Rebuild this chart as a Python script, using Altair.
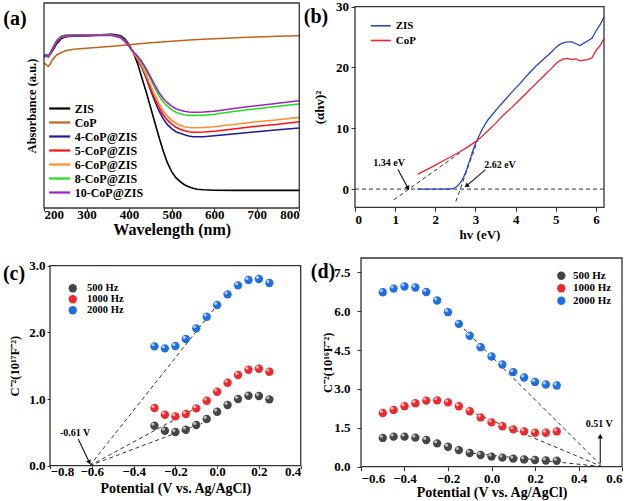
import altair as alt
import pandas as pd

FONT = "Liberation Serif"

# ---------------- (a) UV-vis absorbance ----------------
wl_head = [200, 205, 210, 215, 220, 230, 240, 250, 270, 300, 330, 360, 380, 390, 400]
wl_tail = [410, 420, 430, 440, 450, 460, 470, 480, 490, 500, 510, 520, 530, 540, 550,
           560, 575, 600, 650, 700, 750, 800]
zis_head = [1.513, 1.533, 1.523, 1.543, 1.573, 1.643, 1.693, 1.713, 1.718, 1.723, 1.733, 1.738, 1.723, 1.693, 1.633]
zis_tail = [1.553, 1.443, 1.303, 1.163, 1.013, 0.863, 0.713, 0.573, 0.453, 0.363, 0.303, 0.263, 0.233,
            0.213, 0.198, 0.188, 0.183, 0.178, 0.176, 0.176, 0.176, 0.176]
c4_head = [1.508, 1.520, 1.510, 1.540, 1.578, 1.658, 1.700, 1.715, 1.720, 1.722, 1.730, 1.735, 1.715, 1.680, 1.625]
c4_tail = [1.553, 1.483, 1.403, 1.303, 1.183, 1.073, 0.973, 0.893, 0.833, 0.793, 0.763, 0.748, 0.733,
           0.720, 0.713, 0.713, 0.713, 0.723, 0.743, 0.763, 0.783, 0.800]
c5_head = [1.515, 1.525, 1.515, 1.545, 1.585, 1.665, 1.705, 1.720, 1.724, 1.724, 1.728, 1.730, 1.710, 1.675, 1.622]
c5_tail = [1.553, 1.488, 1.413, 1.318, 1.203, 1.098, 1.008, 0.933, 0.878, 0.838, 0.808, 0.788, 0.773,
           0.763, 0.758, 0.758, 0.760, 0.768, 0.793, 0.818, 0.838, 0.863]
c6_head = [1.518, 1.528, 1.518, 1.548, 1.588, 1.668, 1.708, 1.722, 1.725, 1.725, 1.728, 1.728, 1.706, 1.671, 1.620]
c6_tail = [1.553, 1.493, 1.423, 1.333, 1.233, 1.133, 1.043, 0.973, 0.918, 0.878, 0.848, 0.828, 0.813,
           0.805, 0.803, 0.803, 0.805, 0.813, 0.838, 0.863, 0.883, 0.906]
c8_head = [1.525, 1.535, 1.525, 1.555, 1.598, 1.678, 1.718, 1.730, 1.732, 1.730, 1.730, 1.728, 1.705, 1.668, 1.618]
c8_tail = [1.563, 1.513, 1.453, 1.373, 1.293, 1.203, 1.123, 1.063, 1.018, 0.983, 0.958, 0.943, 0.933,
           0.928, 0.926, 0.926, 0.928, 0.938, 0.968, 0.993, 1.018, 1.040]
c10_head = [1.520, 1.530, 1.520, 1.550, 1.590, 1.670, 1.710, 1.724, 1.727, 1.726, 1.727, 1.725, 1.703, 1.666, 1.616]
c10_tail = [1.563, 1.518, 1.463, 1.393, 1.313, 1.233, 1.158, 1.098, 1.053, 1.018, 0.993, 0.978, 0.968,
            0.960, 0.958, 0.958, 0.960, 0.968, 0.998, 1.023, 1.048, 1.073]
cop_wl = [200, 205, 210, 215, 220, 230, 240, 250, 270, 300, 330, 360, 400, 450, 500, 550, 600, 650, 700, 750, 800]
cop_abs = [1.450, 1.433, 1.416, 1.443, 1.483, 1.533, 1.553, 1.573, 1.588, 1.598, 1.608, 1.618, 1.633,
           1.653, 1.668, 1.683, 1.693, 1.703, 1.710, 1.717, 1.723]

names_a = ["ZIS", "CoP", "4-CoP@ZIS", "5-CoP@ZIS", "6-CoP@ZIS", "8-CoP@ZIS", "10-CoP@ZIS"]
colors_a = ["#000000", "#c0641c", "#1c1c9c", "#ff1010", "#ff8c30", "#20dd20", "#a020c8"]
a_xdom, a_ydom = [200, 800], [0, 2.05]
a_xticks = [200, 300, 400, 500, 600, 700, 800]

wl_full = wl_head + wl_tail
series_a = {
    "ZIS": (wl_full, zis_head + zis_tail),
    "CoP": (cop_wl, cop_abs),
    "4-CoP@ZIS": (wl_full, c4_head + c4_tail),
    "5-CoP@ZIS": (wl_full, c5_head + c5_tail),
    "6-CoP@ZIS": (wl_full, c6_head + c6_tail),
    "8-CoP@ZIS": (wl_full, c8_head + c8_tail),
    "10-CoP@ZIS": (wl_full, c10_head + c10_tail),
}
rows = []
for k, name in enumerate(names_a):
    xs, ys = series_a[name]
    for x, y in zip(xs, ys):
        rows.append({"wl": x, "A": y, "s": name, "o": k})
df_a = pd.DataFrame(rows)

# ---------------- (b) Tauc plot ----------------
zis_hv = [1.55, 1.8, 2.0, 2.2, 2.4, 2.45, 2.5, 2.55, 2.6, 2.65, 2.7, 2.75, 2.8, 2.85, 2.9, 2.95, 3.0, 3.05,
          3.1, 3.15, 3.2, 3.3, 3.4, 3.5, 3.7, 3.9, 4.1, 4.3, 4.5, 4.7, 4.9, 5.0, 5.1, 5.2, 5.3, 5.4, 5.5,
          5.6, 5.7, 5.8, 5.9, 6.0, 6.1, 6.2]
zis_t = [0, 0, 0, 0, 0.05, 0.1, 0.25, 0.5, 0.85, 1.3, 1.9, 2.7, 3.6, 4.6, 5.6, 6.6, 7.5, 8.2,
         8.9, 9.6, 10.2, 11.3, 12.1, 12.9, 14.4, 15.9, 17.3, 18.8, 20.2, 21.4, 22.6, 23.3, 23.8, 24.1, 24.2, 24.2, 23.9,
         23.6, 24.0, 24.4, 24.8, 26.0, 27.0, 28.3]
cop_hv = [1.56, 1.7, 1.8, 2.0, 2.2, 2.4, 2.6, 2.8, 3.0, 3.1, 3.3, 3.5, 3.7, 3.9, 4.1, 4.3, 4.5, 4.7, 4.9,
          5.0, 5.1, 5.2, 5.3, 5.4, 5.5, 5.6, 5.7, 5.8, 5.9, 6.0, 6.1, 6.2]
cop_t = [2.45, 2.9, 3.25, 3.95, 4.65, 5.35, 6.1, 6.9, 7.8, 8.3, 9.5, 10.8, 12.2, 13.4, 14.7, 16.0, 17.3, 18.6, 19.9,
         20.6, 21.1, 21.4, 21.5, 21.3, 21.4, 21.1, 21.2, 21.3, 21.6, 22.8, 23.6, 24.7]
names_b = ["ZIS", "CoP"]
colors_b = ["#2a44c8", "#ee2028"]
b_xdom, b_ydom = [0, 6.2], [-3, 30]
b_xticks = [0, 1, 2, 3, 4, 5, 6]
b_yticks = [0, 5, 10, 15, 20, 25, 30]
df_b = pd.DataFrame(
    [{"hv": x, "t": y, "s": "ZIS"} for x, y in zip(zis_hv, zis_t)]
    + [{"hv": x, "t": y, "s": "CoP"} for x, y in zip(cop_hv, cop_t)]
)
# dashed guide lines: baseline and the two tangents
b_seg_x = [0.0, 0.97, 2.51]
b_seg_y = [0.0, -1.75, -2.04]
b_seg_x2 = [6.2, 2.61, 3.05]
b_seg_y2 = [0.0, 5.95, 7.95]
b_seg_c = ["#2a2a70", "#333333", "#333333"]
# arrows and labels
b_arr_x = [1.07, 3.25]
b_arr_y = [3.2, 3.2]
b_arr_x2 = [1.31, 2.79]
b_arr_y2 = [0.25, 0.6]
b_arr_ang = [155, 231]
b_lab_txt = ["1.34 eV", "2.62 eV"]
b_lab_x = [0.85, 3.61]
b_lab_y = [4.3, 4.0]

# ---------------- (c) Mott-Schottky ----------------
freq_names = ["500 Hz", "1000 Hz", "2000 Hz"]
freq_colors = ["#454545", "#ec2a2e", "#1f6fe3"]
c_xdom, c_ydom = [-0.8, 0.4], [0, 3.0]
c_xticks = [-0.8, -0.6, -0.4, -0.2, 0.0, 0.2, 0.4]
c_yticks = [0.0, 0.5, 1.0, 1.5, 2.0, 2.5, 3.0]
c_pot = [-0.3, -0.25, -0.2, -0.15, -0.1, -0.05, 0.0, 0.05, 0.1, 0.15, 0.2, 0.25]
c_500 = [0.60, 0.525, 0.505, 0.54, 0.61, 0.70, 0.81, 0.91, 1.00, 1.05, 1.045, 0.995]
c_1000 = [0.865, 0.765, 0.74, 0.775, 0.86, 0.975, 1.11, 1.245, 1.36, 1.44, 1.455, 1.41]
c_2000 = [1.79, 1.76, 1.795, 1.90, 2.06, 2.235, 2.41, 2.57, 2.705, 2.785, 2.80, 2.74]
c_seg_x = [-0.61, -0.61, -0.61]
c_seg_y = [0.0, 0.0, 0.0]
c_seg_x2 = [0.0, -0.08, -0.07]
c_seg_y2 = [2.41, 0.90, 0.64]
c_arr_x, c_arr_y, c_arr_x2, c_arr_y2, c_arr_ang = [-0.665], [0.40], [-0.613], [0.06], [153]
c_lab_txt, c_lab_x, c_lab_y = ["-0.61 V"], [-0.68], [0.49]

# ---------------- (d) Mott-Schottky ----------------
d_xdom, d_ydom = [-0.6, 0.6], [0, 8.05]
d_xticks = [-0.6, -0.4, -0.2, 0.0, 0.2, 0.4, 0.6]
d_yticks = [0.0, 1.5, 3.0, 4.5, 6.0, 7.5]
d_pot = [-0.5, -0.45, -0.4, -0.35, -0.3, -0.25, -0.2, -0.15, -0.1, -0.05, 0.0, 0.05, 0.1, 0.15, 0.2, 0.25, 0.3]
d_500 = [1.11, 1.16, 1.16, 1.12, 1.03, 0.90, 0.77, 0.64, 0.53, 0.45, 0.39, 0.35, 0.31, 0.28, 0.26, 0.24, 0.23]
d_1000 = [2.07, 2.19, 2.33, 2.45, 2.55, 2.56, 2.48, 2.33, 2.14, 1.90, 1.71, 1.56, 1.44, 1.36, 1.31, 1.31, 1.36]
d_2000 = [6.73, 6.87, 6.95, 6.91, 6.74, 6.41, 5.96, 5.51, 5.05, 4.61, 4.25, 3.94, 3.65, 3.44, 3.27, 3.17, 3.13]
d_seg_x = [-0.15, -0.10, -0.09]
d_seg_y = [5.51, 2.14, 0.52]
d_seg_x2 = [0.51, 0.51, 0.51]
d_seg_y2 = [0.0, 0.0, 0.0]
d_arr_x, d_arr_y, d_arr_x2, d_arr_y2, d_arr_ang = [0.50], [0.12], [0.50], [1.15], [0]
d_lab_txt, d_lab_x, d_lab_y = ["0.51 V"], [0.495], [1.63]


def ms_frame(pot, s500, s1000, s2000):
    out = []
    for name, vals in zip(freq_names, [s500, s1000, s2000]):
        for p, v in zip(pot, vals):
            out.append({"p": p, "v": v, "s": name})
    return pd.DataFrame(out)


def axis(**kw):
    d = dict(grid=False, domain=False, labelFont=FONT, labelFontWeight="bold", labelFontSize=13,
             labelColor="black", titleFont=FONT, titleFontWeight="bold", titleColor="black",
             tickColor="#333333", tickWidth=1.1)
    d.update(kw)
    return alt.Axis(**d)


def legend(x, y, **kw):
    d = dict(orient="none", legendX=x, legendY=y, title=None, labelFont=FONT, labelFontWeight="bold",
             labelColor="black", padding=0)
    d.update(kw)
    return alt.Legend(**d)


def frame_layer(xdom, ydom, xsc, ysc):
    df = pd.DataFrame({"x": [xdom[0]], "x2": [xdom[1]], "y": [ydom[0]], "y2": [ydom[1]]})
    return alt.Chart(df).mark_rect(fillOpacity=0, stroke="#333333", strokeWidth=1.3).encode(
        x=alt.X("x:Q", scale=xsc), x2="x2:Q", y=alt.Y("y:Q", scale=ysc), y2="y2:Q")


def seg_layer(xs, ys, x2s, y2s, xsc, ysc, colors, dash=(4, 3)):
    df = pd.DataFrame({"x": xs, "y": ys, "x2": x2s, "y2": y2s, "c": colors})
    return alt.Chart(df).mark_rule(strokeDash=list(dash), strokeWidth=1).encode(
        x=alt.X("x:Q", scale=xsc), y=alt.Y("y:Q", scale=ysc), x2="x2:Q", y2="y2:Q",
        color=alt.Color("c:N", scale=None))


def arrow_layers(xs, ys, x2s, y2s, angs, xsc, ysc):
    df = pd.DataFrame({"x": xs, "y": ys, "x2": x2s, "y2": y2s, "a": angs})
    line = alt.Chart(df).mark_rule(color="#111111", strokeWidth=1.1).encode(
        x=alt.X("x:Q", scale=xsc), y=alt.Y("y:Q", scale=ysc), x2="x2:Q", y2="y2:Q")
    head = alt.Chart(df).mark_point(shape="triangle", filled=True, color="#111111", size=28, opacity=1).encode(
        x=alt.X("x2:Q", scale=xsc), y=alt.Y("y2:Q", scale=ysc), angle=alt.Angle("a:Q", scale=None))
    return [line, head]


def text_layer(txts, xs, ys, xsc, ysc, size=10):
    df = pd.DataFrame({"t": txts, "x": xs, "y": ys})
    return alt.Chart(df).mark_text(font=FONT, fontWeight="bold", fontSize=size, color="black").encode(
        x=alt.X("x:Q", scale=xsc), y=alt.Y("y:Q", scale=ysc), text="t:N")


def panel_label(txt, px, py):
    return alt.Chart(pd.DataFrame({"t": [txt]})).mark_text(
        font=FONT, fontWeight="bold", fontSize=20, color="black").encode(
        x=alt.value(px), y=alt.value(py), text="t:N")


# ----- (a): plot area 255.3 x 205
xa = alt.Scale(domain=a_xdom, nice=False, zero=False)
ya = alt.Scale(domain=a_ydom, nice=False, zero=False)
chart_a = alt.layer(
    alt.Chart(df_a).mark_line(strokeWidth=1.6).encode(
        x=alt.X("wl:Q", scale=xa, axis=axis(values=a_xticks, title="Wavelength (nm)",
                                             titleFontSize=16, tickSize=3, labelPadding=-3, titlePadding=0.5)),
        y=alt.Y("A:Q", scale=ya, axis=axis(labels=False, ticks=False, title="Absorbance (a.u.)",
                                          titleFontSize=12.5, titlePadding=6)),
        color=alt.Color("s:N", scale=alt.Scale(domain=names_a, range=colors_a),
                        legend=legend(8.2, 98, symbolType="M-1.7,0H1.7", symbolSize=154,
                                      symbolStrokeWidth=2.2, labelFontSize=12, labelOffset=7.5, rowPadding=0)),
        order=alt.Order("o:Q"),
        detail="s:N"),
    frame_layer(a_xdom, a_ydom, xa, ya),
    panel_label("(a)", -29, 16),
).properties(width=255.3, height=205)

# ----- (b): plot area 249 x 200.6, starting 3.7 px lower than (a)
xb = alt.Scale(domain=b_xdom, nice=False, zero=False)
yb = alt.Scale(domain=b_ydom, nice=False, zero=False, range=[204.3, 3.7])
chart_b = alt.layer(
    seg_layer(b_seg_x, b_seg_y, b_seg_x2, b_seg_y2, xb, yb, b_seg_c),
    alt.Chart(df_b).mark_line(strokeWidth=1.3).encode(
        x=alt.X("hv:Q", scale=xb, axis=axis(values=b_xticks, title="hv (eV)", titleFontSize=13,
                                             tickSize=4, labelPadding=2, titlePadding=2)),
        y=alt.Y("t:Q", scale=yb, axis=axis(values=b_yticks, title="(αhv)²", titleFontSize=13,
                                          tickSize=4, labelPadding=2.5, titlePadding=9)),
        color=alt.Color("s:N", scale=alt.Scale(domain=names_b, range=colors_b),
                        legend=legend(18.3, 15.3, symbolType="M-1.5,0H1.5", symbolSize=178,
                                      symbolStrokeWidth=1.6, labelFontSize=11, labelOffset=7.4, rowPadding=1.7))),
    *arrow_layers(b_arr_x, b_arr_y, b_arr_x2, b_arr_y2, b_arr_ang, xb, yb),
    text_layer(b_lab_txt, b_lab_x, b_lab_y, xb, yb),
    frame_layer(b_xdom, b_ydom, xb, yb),
    panel_label("(b)", -39, 13.7),
).properties(width=249, height=204.3)


def ms_chart(df, xsc, ysc, xdom, ydom, xvals, yvals, segs, arrows, labels, leg_xy, lab, lab_xy,
             ax_kw, ay_kw, w, h, legsize):
    pts = alt.Chart(df).mark_circle(size=70, opacity=1).encode(
        x=alt.X("p:Q", scale=xsc, axis=axis(values=xvals, format=".1f", title="Potential (V vs. Ag/AgCl)",
                                             titleFontSize=14, **ax_kw)),
        y=alt.Y("v:Q", scale=ysc, axis=axis(values=yvals, format=".1f", title="C⁻²(10" + lab[1] + "F⁻²)",
                                           titleFontSize=12.5, **ay_kw)),
        color=alt.Color("s:N", scale=alt.Scale(domain=freq_names, range=freq_colors),
                        legend=legend(leg_xy[0], leg_xy[1], symbolType="circle", symbolSize=70,
                                      labelFontSize=legsize, labelOffset=leg_xy[2], rowPadding=leg_xy[3])))
    shine = alt.Chart(df).mark_circle(size=10, color="white", opacity=0.65, xOffset=-1.5, yOffset=-1.6).encode(
        x=alt.X("p:Q", scale=xsc), y=alt.Y("v:Q", scale=ysc))
    return alt.layer(
        segs, pts, shine, *arrows, labels, frame_layer(xdom, ydom, xsc, ysc),
        panel_label(lab[0], lab_xy[0], lab_xy[1])
    ).properties(width=w, height=h)


# ----- (c): plot area 250.7 x 200, inset 6 px right and 7.7 px down in its cell
xc = alt.Scale(domain=c_xdom, nice=False, zero=False, range=[6, 256.7])
yc = alt.Scale(domain=c_ydom, nice=False, zero=False, range=[207.7, 7.7])
chart_c = ms_chart(
    ms_frame(c_pot, c_500, c_1000, c_2000), xc, yc, c_xdom, c_ydom, c_xticks, c_yticks,
    seg_layer(c_seg_x, c_seg_y, c_seg_x2, c_seg_y2, xc, yc, ["#333333"] * 3),
    arrow_layers(c_arr_x, c_arr_y, c_arr_x2, c_arr_y2, c_arr_ang, xc, yc),
    text_layer(c_lab_txt, c_lab_x, c_lab_y, xc, yc),
    (23.5, 25, 9.1, 0), ("(c)", "¹⁷"), (-30, 15.7),
    dict(tickSize=3, labelPadding=-3.5, titlePadding=3),
    dict(tickSize=3, labelPadding=2, titlePadding=7, offset=-6),
    256.7, 207.7, 10.5)

# ----- (d): plot area 261 x 208.7
xd = alt.Scale(domain=d_xdom, nice=False, zero=False)
yd = alt.Scale(domain=d_ydom, nice=False, zero=False)
chart_d = ms_chart(
    ms_frame(d_pot, d_500, d_1000, d_2000), xd, yd, d_xdom, d_ydom, d_xticks, d_yticks,
    seg_layer(d_seg_x, d_seg_y, d_seg_x2, d_seg_y2, xd, yd, ["#333333"] * 3),
    arrow_layers(d_arr_x, d_arr_y, d_arr_x2, d_arr_y2, d_arr_ang, xd, yd),
    text_layer(d_lab_txt, d_lab_x, d_lab_y, xd, yd),
    (194.8, 12.2, 6.1, 0.5), ("(d)", "¹⁶"), (-38, 14),
    dict(tickSize=4, labelPadding=2, titlePadding=0),
    dict(tickSize=4, labelPadding=7, titlePadding=-1),
    261, 208.7, 11)

row1 = alt.hconcat(chart_a, chart_b, spacing=0).resolve_scale(color="independent", x="independent", y="independent")
row2 = alt.hconcat(chart_c, chart_d, spacing=8).resolve_scale(color="independent", x="independent", y="independent")
chart = alt.vconcat(row1, row2, spacing=15).resolve_scale(
    color="independent", x="independent", y="independent"
).configure(
    padding={"left": 2, "top": 0, "right": 0, "bottom": 0}, background="white"
).configure_view(strokeWidth=0)

chart.save("out.html", embed_options={"renderer": "svg", "actions": False})
